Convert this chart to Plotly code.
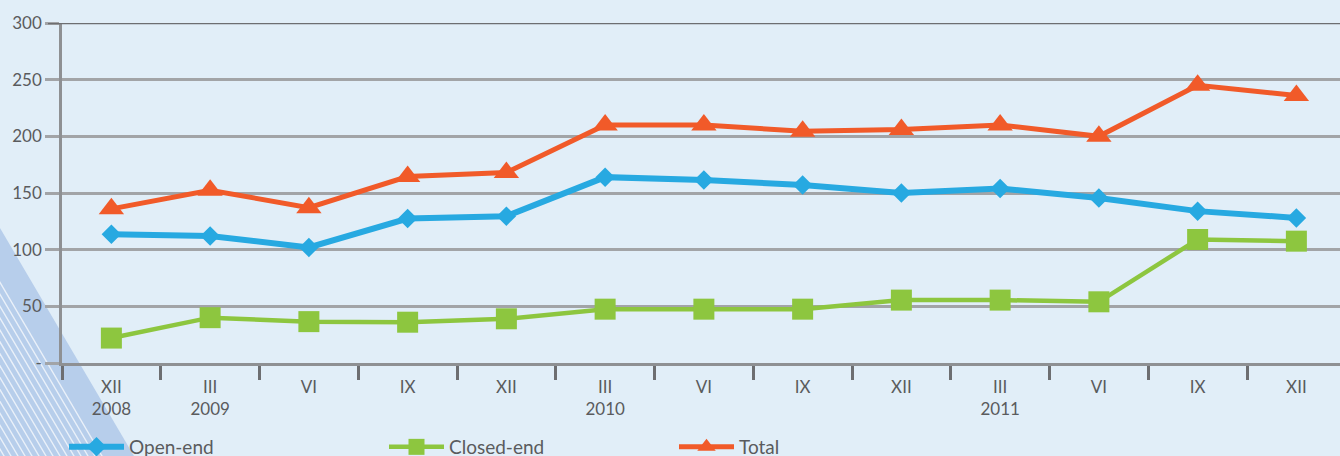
import plotly.graph_objects as go

categories = ["XII<br>2008", "III<br>2009", "VI", "IX", "XII", "III<br>2010", "VI", "IX", "XII",
              "III<br>2011", "VI", "IX", "XII"]
open_end = [113.5, 112, 102, 127.5, 129.5, 164, 161.5, 157, 150, 154, 145.5, 134, 128]
closed_end = [22, 40, 36.5, 36, 39, 47.5, 47.5, 47.5, 55.5, 55.5, 54, 109, 107.5]
total = [136, 152.5, 137, 164.5, 168, 210, 210, 204.5, 206, 210, 200, 245, 236]
y_tickvals = [0, 50, 100, 150, 200, 250, 300]
y_ticktext = ["-", "50", "100", "150", "200", "250", "300"]

W, H = 1340, 480          # taller than the window; the bottom is cropped like the original
L, R, T = 62, 0, 23
Y0 = 363                  # pixel row of y=0
B = H - Y0
pw, ph = W - L - R, H - T - B
xs = list(range(len(categories)))

BG = "#E1EEF8"
TXT = "#5A5B5D"
GRID = "#A2A4A7"
FONT = "Lato"

fig = go.Figure()
series = [
    ("Open-end", open_end, "#27A9E1", 6, "diamond", 15, "legend"),
    ("Closed-end", closed_end, "#8DC63F", 4.5, "square", 21, "legend2"),
    ("Total", total, "#F15A29", 5, "triangle-up", 22, "legend3"),
]
for name, vals, col, lw, sym, ms, lg in series:
    fig.add_trace(go.Scatter(
        x=xs, y=vals, name=name, mode="lines+markers",
        line=dict(color=col, width=lw),
        marker=dict(symbol=sym, size=ms, color=col, line=dict(width=0)),
        cliponaxis=False, legend=lg,
    ))


def px(x):
    return (x - L) / pw


def py(y):
    return (Y0 - y) / ph


# decorative diagonal band in bottom-left corner
shapes = []
x0e, y0e, x1e, y1e = 0, 228, 134, 456
slope = (x1e - x0e) / (y1e - y0e)
yb = H
xb = x0e + slope * (yb - y0e)
shapes.append(dict(type="path", xref="paper", yref="paper", layer="below",
                   path=f"M {px(x0e)} {py(y0e)} L {px(xb)} {py(yb)} L {px(0)} {py(yb)} Z",
                   fillcolor="#B7CEEB", line=dict(width=0)))
for d in range(32, 280, 7):
    shapes.append(dict(type="line", xref="paper", yref="paper", layer="below",
                       x0=px(x0e - d), y0=py(y0e), x1=px(xb - d), y1=py(yb),
                       line=dict(color="rgba(255,255,255,0.7)", width=1.4)))
# darker top gridline
shapes.append(dict(type="line", xref="paper", yref="y", x0=px(48), x1=1, y0=300, y1=300,
                   line=dict(color="#6D6E71", width=2.5), layer="above"))

leg_common = dict(xanchor="left", yanchor="middle", bgcolor="rgba(0,0,0,0)",
                  itemwidth=55, font=dict(size=19, color=TXT))

fig.update_layout(
    width=W, height=H,
    margin=dict(l=L, r=R, t=T, b=B, pad=0),
    paper_bgcolor=BG, plot_bgcolor="rgba(0,0,0,0)",
    font=dict(family=FONT, size=17, color=TXT),
    shapes=shapes,
    xaxis=dict(
        type="linear",
        range=[-0.5, -0.5 + pw / 98.75],
        tickvals=xs, ticktext=categories,
        showgrid=False, zeroline=False,
        showline=True, linecolor="#8E9093", linewidth=2.5,
        ticks="", ticklabelstandoff=7,
        tickfont=dict(size=17, color=TXT),
        minor=dict(tickvals=[i - 0.5 for i in range(len(categories) + 1)],
                   ticks="outside", ticklen=14, tickwidth=2.5, tickcolor="#6D6E71",
                   showgrid=False),
    ),
    yaxis=dict(
        range=[0, 300], tickvals=y_tickvals, ticktext=y_ticktext,
        showgrid=True, gridcolor=GRID, gridwidth=2.5,
        zeroline=False, showline=True, linecolor="#8E9093", linewidth=2.5,
        ticks="outside", ticklen=14, tickwidth=2.5, tickcolor=GRID,
        tickfont=dict(size=17, color=TXT),
    ),
    showlegend=True,
    legend=dict(x=px(64), y=py(447), **leg_common),
    legend2=dict(x=px(384), y=py(447), **leg_common),
    legend3=dict(x=px(674), y=py(447), **leg_common),
)

fig.write_html("out.html", config={"displayModeBar": False},
               post_script="document.body.style.margin='0';document.body.style.overflow='hidden';"
                           "document.body.style.background='%s';" % BG)
